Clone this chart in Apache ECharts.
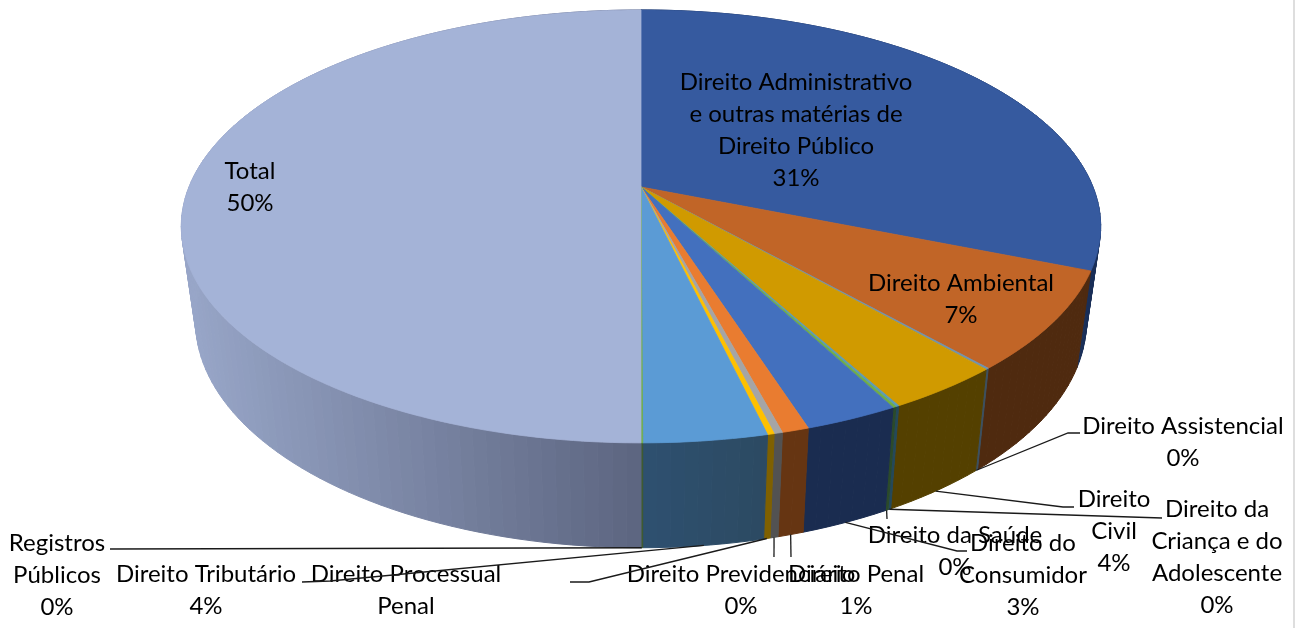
<!DOCTYPE html>
<html>
<head>
<meta charset="utf-8">
<style>
  html, body { margin: 0; padding: 0; background: #fff; }
  #chart { width: 1299px; height: 628px; }
</style>
<script src="https://cdn.jsdelivr.net/npm/echarts@6/dist/echarts.min.js"></script>
</head>
<body>
<div id="chart"></div>
<script>
// slices clockwise from the top of the pie (%)
var sliceNames = ['Direito Administrativo e outras matérias de Direito Público', 'Direito Ambiental',
  'Direito Assistencial', 'Direito Civil', 'Direito da Criança e do Adolescente', 'Direito da Saúde',
  'Direito do Consumidor', 'Direito Penal', 'Direito Previdenciário', 'Direito Processual Penal',
  'Direito Tributário', 'Registros Públicos', 'Total'];
var sliceValues = [31.1, 7.35, 0.1, 3.5, 0.1, 0.1, 2.8, 0.8, 0.25, 0.2, 3.65, 0.05, 50];

// label text, one entry per slice, as wrapped in the picture
var labelLines = [
  ['Direito Administrativo', 'e outras matérias de', 'Direito Público', '31%'],
  ['Direito Ambiental', '7%'],
  ['Direito Assistencial', '0%'],
  ['Direito', 'Civil', '4%'],
  ['Direito da', 'Criança e do', 'Adolescente', '0%'],
  ['Direito da Saúde', '0%'],
  ['Direito do', 'Consumidor', '3%'],
  ['Direito Penal', '1%'],
  ['Direito Previdenciário', '0%'],
  ['Direito Processual', 'Penal'],
  ['Direito Tributário', '4%'],
  ['Registros', 'Públicos', '0%'],
  ['Total', '50%']
];

var topColors = ['#365a9f', '#c16527', '#6f93b0', '#d09a00', '#5b9bb5', '#70ad47', '#4370be',
  '#e97c30', '#a5a5a5', '#ffc000', '#5b9bd5', '#70ad47', '#a4b3d7'];
// side wall colours, [near the front, away from the front]
var sideColors = [['#1a2f58', '#1a2f58'], ['#4f2a0f', '#4f2a0f'], ['#3c5060', '#3c5060'], ['#544000', '#544000'],
  ['#24485a', '#24485a'], ['#2b4a2a', '#2b4a2a'], ['#1a2c50', '#1a2c50'], ['#663512', '#663512'],
  ['#525252', '#525252'], ['#7f6000', '#7f6000'], ['#2c4a62', '#2e5070'], ['#3e5a2e', '#3e5a2e'],
  ['#5c6580', '#98a6c8']];

// label placement: centre x, y of first line
var labelPos = [[796, 82], [961, 283], [1183, 426], [1114, 499], [1217, 509], [955, 535],
  [1023, 543], [856, 574], [741, 574], [406, 574], [206, 574], [57, 543], [250, 171]];
// leader line waypoints after the rim point, null = no leader
var leaderEnds = [null, null, [[1068, 433], [1080, 433]], [[1063, 507], [1074, 507]], [[1162, 518]],
  [[887, 519]], [[957, 551], [967, 551]], [[791, 557]], [[774, 557]], [[589, 582], [570, 582]],
  [[330, 581], [302, 582]], [[110, 549]], null];
var lineHeight = 32;

// perspective disc: near edge is drawn bigger than far edge
var persp = 0.182;
var topDisc = { cx: 641, cy: 187, a: 452, b: 209.3 };
var bottomDisc = { cx: 641, cy: 280, a: 438, b: 219 };

function project(disc, deg) {
  var t = deg * Math.PI / 180;
  var w = 1 + persp * Math.cos(t);
  return [disc.cx + disc.a * Math.sin(t) / w, disc.cy - disc.b * Math.cos(t) / w];
}

var total = sliceValues.reduce(function (s, v) { return s + v; }, 0);
var startDeg = [];
sliceValues.reduce(function (s, v, i) { startDeg[i] = s / total * 360; return s + v; }, 0);
function endDeg(i) { return startDeg[i] + sliceValues[i] / total * 360; }

function hexMix(c0, c1, t) {
  var out = '#';
  for (var i = 1; i < 7; i += 2) {
    var a = parseInt(c0.substr(i, 2), 16), b = parseInt(c1.substr(i, 2), 16);
    out += ('0' + Math.round(a + (b - a) * t).toString(16)).slice(-2);
  }
  return out;
}

function renderSide(params) {
  var i = params.dataIndex, s = startDeg[i], e = endDeg(i);
  var n = Math.max(1, Math.ceil((e - s) / 1.5));
  var xs = [];
  for (var j = 0; j <= n; j++) xs.push(project(topDisc, s + (e - s) * j / n)[0]);
  var x0 = Math.min.apply(null, xs), x1 = Math.max.apply(null, xs);
  var children = [];
  for (j = 0; j < n; j++) {
    var a = s + (e - s) * j / n, b = s + (e - s) * (j + 1) / n;
    var mid = (xs[j] + xs[j + 1]) / 2;
    var frontX = Math.abs(xs[0] - x0) < Math.abs(xs[0] - x1) ? x0 : x1;
    var t = x1 > x0 ? Math.abs(mid - frontX) / (x1 - x0) : 0;
    var col = hexMix(sideColors[i][0], sideColors[i][1], t);
    children.push({
      type: 'polygon',
      shape: { points: [project(topDisc, a), project(topDisc, b), project(bottomDisc, b), project(bottomDisc, a)] },
      style: { fill: col, stroke: col, lineWidth: 1 }
    });
  }
  return { type: 'group', children: children };
}

function renderTop(params) {
  var i = params.dataIndex, s = startDeg[i], e = endDeg(i);
  var pts = [[topDisc.cx, topDisc.cy]];
  var n = Math.max(1, Math.ceil(e - s));
  for (var j = 0; j <= n; j++) pts.push(project(topDisc, s + (e - s) * j / n));
  return {
    type: 'polygon',
    shape: { points: pts },
    style: { fill: topColors[i], stroke: topColors[i], lineWidth: 0.8 }
  };
}

function renderLabel(params) {
  var i = params.dataIndex, children = [];
  if (leaderEnds[i]) {
    var start = project(bottomDisc, (startDeg[i] + endDeg(i)) / 2);
    children.push({
      type: 'polyline',
      shape: { points: [start].concat(leaderEnds[i]) },
      style: { fill: null, stroke: '#1a1a1a', lineWidth: 1.3 }
    });
  }
  labelLines[i].forEach(function (line, k) {
    children.push({
      type: 'text',
      style: {
        x: labelPos[i][0], y: labelPos[i][1] + k * lineHeight, text: line,
        font: '24px Lato', fill: '#000', align: 'center', verticalAlign: 'middle'
      }
    });
  });
  return { type: 'group', children: children };
}

var chart = echarts.init(document.getElementById('chart'));
var seriesData = sliceValues.map(function (v, i) { return { name: sliceNames[i], value: v }; });

chart.setOption({
  animation: false,
  backgroundColor: '#fff',
  graphic: [{
    type: 'line', silent: true,
    shape: { x1: 1294, y1: 0, x2: 1294, y2: 628 },
    style: { stroke: '#bdbdbd', lineWidth: 1 }
  }],
  series: [
    { type: 'custom', coordinateSystem: 'none', silent: true, data: seriesData, renderItem: renderSide, z: 1 },
    { type: 'custom', coordinateSystem: 'none', silent: true, data: seriesData, renderItem: renderTop, z: 2 },
    { type: 'custom', coordinateSystem: 'none', silent: true, data: seriesData, renderItem: renderLabel, z: 3 }
  ]
});
</script>
</body>
</html>
